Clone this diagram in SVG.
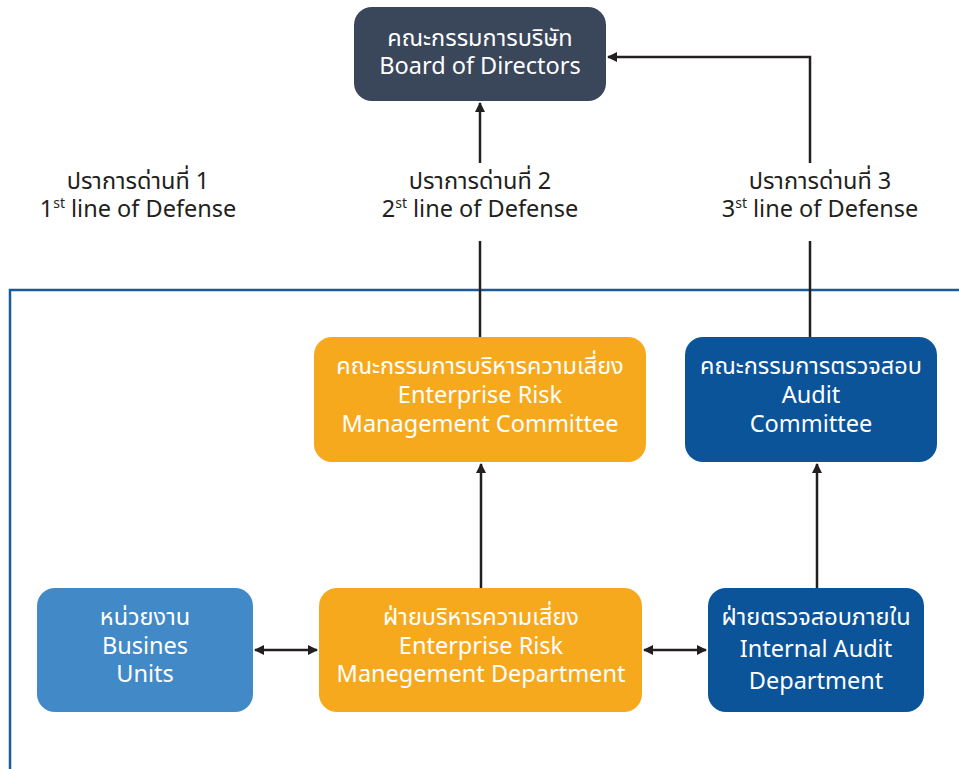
<svg xmlns="http://www.w3.org/2000/svg" width="959" height="769" viewBox="0 0 959 769">
<defs>
<marker id="ah" viewBox="0 0 10 10" refX="9" refY="5" markerWidth="10" markerHeight="10" markerUnits="userSpaceOnUse" orient="auto-start-reverse"><path d="M0,0 L10,5 L0,10 Z" fill="#231f20"/></marker>
<style>
.t{font-family:"Noto Sans","Noto Sans Thai","DejaVu Sans",sans-serif;font-size:23.5px;text-anchor:middle}
.w{fill:#ffffff}
.k{fill:#231f20;font-size:23.5px}
.c{stroke:#231f20;stroke-width:2.5;fill:none}
</style>
</defs>
<rect width="959" height="769" fill="#ffffff"/>
<rect x="10" y="290" width="960" height="500" fill="none" stroke="#1a5a9a" stroke-width="2.5"/>
<g id="connectors">
<path class="c" d="M480,163 V103" marker-end="url(#ah)"/>
<path class="c" d="M480,337 V241"/>
<path class="c" d="M810,163 V57 H608" marker-end="url(#ah)"/>
<path class="c" d="M810,337 V241"/>
<path class="c" d="M481,588 V464" marker-end="url(#ah)"/>
<path class="c" d="M817,588 V464" marker-end="url(#ah)"/>
<path class="c" d="M255,650 H317" marker-start="url(#ah)" marker-end="url(#ah)"/>
<path class="c" d="M644,650 H706" marker-start="url(#ah)" marker-end="url(#ah)"/>
</g>
<g id="label1"><text class="t k" x="138" y="189">ปราการด่านที่ 1</text><text class="t k" x="138" y="217">1<tspan font-size="14" dy="-9">st</tspan><tspan dy="9"> line of Defense</tspan></text></g>
<g id="label2"><text class="t k" x="480" y="189">ปราการด่านที่ 2</text><text class="t k" x="480" y="217">2<tspan font-size="14" dy="-9">st</tspan><tspan dy="9"> line of Defense</tspan></text></g>
<g id="label3"><text class="t k" x="820" y="189">ปราการด่านที่ 3</text><text class="t k" x="820" y="217">3<tspan font-size="14" dy="-9">st</tspan><tspan dy="9"> line of Defense</tspan></text></g>
<g id="board"><rect x="354" y="7" width="252" height="94" rx="18" fill="#3a4659"/><text class="t w" x="480" y="46">คณะกรรมการบริษัท</text><text class="t w" x="480" y="74">Board of Directors</text></g>
<g id="ermc"><rect x="314" y="337" width="332" height="125" rx="18" fill="#f7a91e"/><text class="t w" x="480" y="374">คณะกรรมการบริหารความเสี่ยง</text><text class="t w" x="480" y="403">Enterprise Risk</text><text class="t w" x="480" y="432">Management Committee</text></g>
<g id="auditc"><rect x="685" y="337" width="252" height="125" rx="18" fill="#0b5499"/><text class="t w" x="811" y="374">คณะกรรมการตรวจสอบ</text><text class="t w" x="811" y="403">Audit</text><text class="t w" x="811" y="432">Committee</text></g>
<g id="bu"><rect x="37" y="588" width="216" height="124" rx="18" fill="#4289c8"/><text class="t w" x="145" y="625">หน่วยงาน</text><text class="t w" x="145" y="654">Busines</text><text class="t w" x="145" y="682">Units</text></g>
<g id="ermd"><rect x="319" y="588" width="323" height="124" rx="18" fill="#f7a91e"/><text class="t w" x="481" y="625">ฝ่ายบริหารความเสี่ยง</text><text class="t w" x="481" y="654">Enterprise Risk</text><text class="t w" x="481" y="682">Manegement Department</text></g>
<g id="iad"><rect x="708" y="588" width="216" height="124" rx="18" fill="#0b5499"/><text class="t w" x="816" y="625">ฝ่ายตรวจสอบภายใน</text><text class="t w" x="816" y="657">Internal Audit</text><text class="t w" x="816" y="689">Department</text></g>
</svg>
